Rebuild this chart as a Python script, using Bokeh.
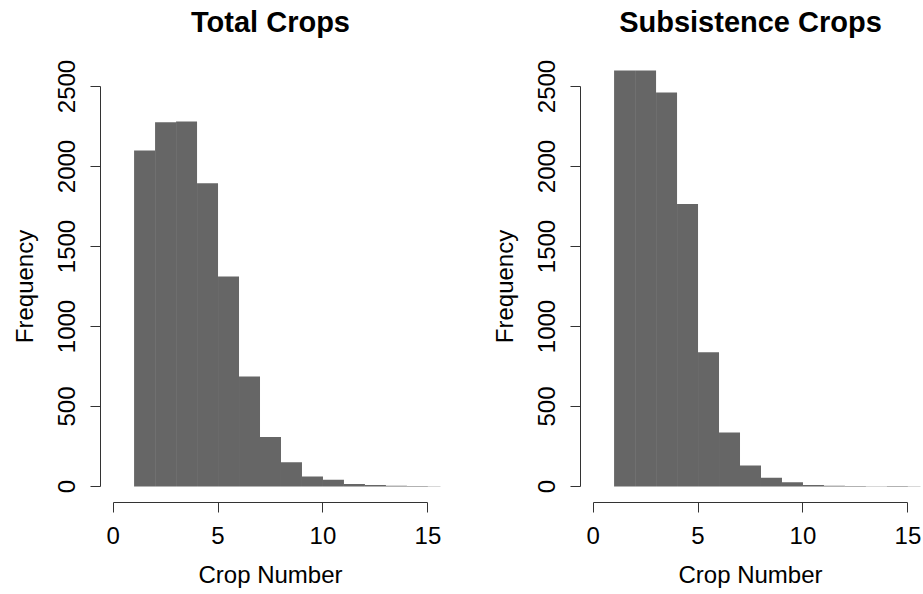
from bokeh.plotting import figure
from bokeh.layouts import row
from bokeh.models import FixedTicker, Range1d, LinearAxis
from bokeh.embed import file_html
from bokeh.resources import INLINE

# ---- data ----
bin_edges = [1, 2, 3, 4, 5, 6, 7, 8, 9, 10, 11, 12, 13, 14, 15, 16]
total_counts = [2100, 2276, 2281, 1896, 1312, 688, 309, 152, 62, 42, 15, 9, 4, 3, 2]
subsistence_counts = [2870, 2680, 2462, 1765, 839, 337, 131, 54, 27, 9, 4, 3, 1, 3, 1]
x_ticks = [0, 5, 10, 15]
y_ticks = [0, 500, 1000, 1500, 2000, 2500]
titles = ["Total Crops", "Subsistence Crops"]
x_label = "Crop Number"
y_label = "Frequency"

FONT = "Liberation Sans"
BAR = "#666666"
AXIS = "#333333"


def make_panel(title, counts, width, border_right):
    p = figure(width=width, height=594, output_backend="svg", toolbar_location=None,
               x_range=Range1d(-0.6, 15.6), y_range=Range1d(-100, 2600),
               min_border_left=100, min_border_right=border_right,
               min_border_top=70, min_border_bottom=92)
    p.quad(left=bin_edges[:-1], right=bin_edges[1:], top=counts, bottom=0,
           fill_color=BAR, line_color=None)
    p.xgrid.grid_line_color = None
    p.ygrid.grid_line_color = None
    p.outline_line_color = None

    bottom_axis = p.below[0]
    left_axis = p.left[0]
    for ax in (bottom_axis, left_axis):
        ax.axis_line_color = AXIS
        ax.major_tick_line_color = AXIS
        ax.minor_tick_line_color = None
        ax.major_tick_in = 0
        ax.major_tick_out = 10
        ax.major_label_text_font = FONT
        ax.major_label_text_font_size = "24px"
        ax.major_label_text_color = "black"
        ax.axis_label_text_font = FONT
        ax.axis_label_text_font_size = "24px"
        ax.axis_label_text_font_style = "normal"
        ax.axis_label_text_color = "black"
    bottom_axis.ticker = FixedTicker(ticks=x_ticks)
    left_axis.ticker = FixedTicker(ticks=y_ticks)
    bottom_axis.bounds = (x_ticks[0], x_ticks[-1])
    left_axis.bounds = (y_ticks[0], y_ticks[-1])
    bottom_axis.axis_label = x_label
    left_axis.axis_label = y_label
    bottom_axis.major_label_standoff = 14
    bottom_axis.axis_label_standoff = 14
    left_axis.major_label_orientation = "vertical"
    left_axis.major_label_standoff = 16
    left_axis.axis_label_standoff = 17

    # title: label of a bare axis above the plot region
    top_axis = LinearAxis(ticker=FixedTicker(ticks=[]), axis_label=title,
                          axis_line_color=None, major_tick_line_color=None,
                          minor_tick_line_color=None, major_tick_out=0,
                          major_tick_in=0, major_label_standoff=0,
                          axis_label_standoff=33,
                          axis_label_text_font=FONT,
                          axis_label_text_font_size="29px",
                          axis_label_text_font_style="bold",
                          axis_label_text_color="black")
    p.add_layout(top_axis, "above")
    return p


p1 = make_panel(titles[0], total_counts, 480, 40)
p2 = make_panel(titles[1], subsistence_counts, 443, 3)
layout = row(p1, p2)

open("out.html", "w").write(file_html(layout, INLINE))
